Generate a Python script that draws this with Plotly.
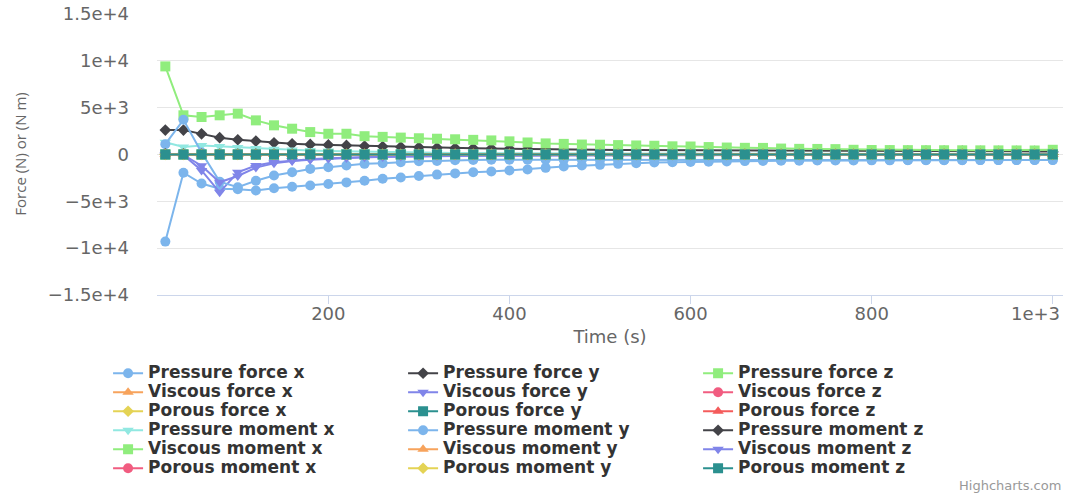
import plotly.graph_objects as go

# ---------------- data ----------------
time_s = [20, 40, 60, 80, 100, 120, 140, 160, 180, 200,
          220, 240, 260, 280, 300, 320, 340, 360, 380, 400,
          420, 440, 460, 480, 500, 520, 540, 560, 580, 600,
          620, 640, 660, 680, 700, 720, 740, 760, 780, 800,
          820, 840, 860, 880, 900, 920, 940, 960, 980, 1000]

pressure_force_x = [-9300, -1950, -3100, -3650, -3700, -3850, -3600, -3450, -3320, -3150,
                    -2980, -2800, -2600, -2450, -2300, -2150, -2020, -1900, -1820, -1710,
                    -1610, -1430, -1290, -1180, -1110, -1000, -930, -860, -820, -800,
                    -770, -740, -710, -690, -670, -660, -650, -640, -640, -630,
                    -630, -620, -620, -610, -610, -600, -600, -600, -590, -590]

pressure_force_y = [2600, 2600, 2200, 1790, 1570, 1430, 1250, 1140, 1070, 1020,
                    960, 900, 850, 800, 760, 720, 690, 660, 630, 600,
                    580, 560, 540, 520, 500, 490, 480, 470, 460, 450,
                    440, 430, 420, 410, 400, 395, 390, 385, 380, 375,
                    370, 365, 360, 355, 350, 345, 340, 335, 330, 325]

pressure_force_z = [9400, 4180, 4000, 4180, 4360, 3640, 3110, 2750, 2390, 2210,
                    2210, 1950, 1880, 1800, 1730, 1680, 1620, 1560, 1500, 1400,
                    1280, 1180, 1130, 1060, 1040, 1000, 960, 930, 870, 850,
                    790, 740, 710, 700, 630, 600, 590, 570, 500, 480,
                    470, 460, 455, 450, 445, 440, 435, 430, 425, 500]

zeros = [0, 0, 0, 0, 0, 0, 0, 0, 0, 0,
         0, 0, 0, 0, 0, 0, 0, 0, 0, 0,
         0, 0, 0, 0, 0, 0, 0, 0, 0, 0,
         0, 0, 0, 0, 0, 0, 0, 0, 0, 0,
         0, 0, 0, 0, 0, 0, 0, 0, 0, 0]

viscous_force_x = zeros
viscous_force_y = [0, -50, -1700, -4040, -1900, -1180, -820, -640, -500, -400,
                   -330, -280, -240, -200, -180, -160, -140, -120, -110, -100,
                   -95, -90, -85, -80, -75, -70, -68, -65, -62, -60,
                   -58, -56, -54, -52, -50, -48, -46, -44, -42, -40,
                   -39, -38, -37, -36, -35, -34, -33, -32, -31, -30]
viscous_force_z = zeros
porous_force_x = zeros
porous_force_y = zeros
porous_force_z = zeros

pressure_moment_x = [1300, 800, 950, 850, 750, 650, 550, 480, 420, 360,
                     320, 280, 250, 220, 200, 180, 160, 150, 140, 130,
                     120, 115, 110, 105, 100, 95, 90, 88, 85, 82,
                     80, 78, 76, 74, 72, 70, 68, 66, 64, 62,
                     60, 59, 58, 57, 56, 55, 54, 53, 52, 50]
pressure_moment_y = [1100, 3700, 200, -2900, -3500, -2800, -2250, -1900, -1540, -1360,
                     -1180, -1000, -930, -820, -720, -700, -620, -580, -570, -570,
                     -570, -570, -575, -575, -580, -580, -585, -585, -590, -590,
                     -595, -595, -600, -600, -600, -600, -600, -600, -600, -600,
                     -600, -600, -600, -600, -600, -600, -600, -600, -600, -600]
pressure_moment_z = [60, 55, 50, 48, 45, 42, 40, 38, 36, 34,
                     32, 30, 29, 28, 27, 26, 25, 24, 23, 22,
                     21, 20, 20, 19, 19, 18, 18, 17, 17, 16,
                     16, 15, 15, 14, 14, 13, 13, 12, 12, 11,
                     11, 10, 10, 10, 9, 9, 9, 8, 8, 8]
viscous_moment_x = zeros
viscous_moment_y = zeros
viscous_moment_z = [0, -50, -1200, -2970, -2300, -1400, -950, -700, -560, -450,
                    -370, -310, -260, -220, -190, -170, -150, -135, -120, -110,
                    -100, -95, -90, -85, -80, -75, -70, -68, -65, -62,
                    -60, -58, -56, -54, -52, -50, -48, -46, -44, -42,
                    -40, -39, -38, -37, -36, -35, -34, -33, -32, -30]
porous_moment_x = zeros
porous_moment_y = zeros
porous_moment_z = zeros

series_names = ["Pressure force x", "Pressure force y", "Pressure force z",
                "Viscous force x", "Viscous force y", "Viscous force z",
                "Porous force x", "Porous force y", "Porous force z",
                "Pressure moment x", "Pressure moment y", "Pressure moment z",
                "Viscous moment x", "Viscous moment y", "Viscous moment z",
                "Porous moment x", "Porous moment y", "Porous moment z"]
series_values = [pressure_force_x, pressure_force_y, pressure_force_z,
                 viscous_force_x, viscous_force_y, viscous_force_z,
                 porous_force_x, porous_force_y, porous_force_z,
                 pressure_moment_x, pressure_moment_y, pressure_moment_z,
                 viscous_moment_x, viscous_moment_y, viscous_moment_z,
                 porous_moment_x, porous_moment_y, porous_moment_z]

y_tick_vals = [-15000, -10000, -5000, 0, 5000, 10000, 15000]
y_tick_text = ["\u22121.5e+4", "\u22121e+4", "\u22125e+3", "0", "5e+3", "1e+4", "1.5e+4"]
x_tick_vals = [200, 400, 600, 800, 1000]
x_tick_text = ["200", "400", "600", "800", "1e+3"]

# ---------------- style ----------------
palette = ["#7cb5ec", "#434348", "#90ed7d", "#f7a35c", "#8085e9",
           "#f15c80", "#e4d354", "#2b908f", "#f45b5b", "#91e8e1"]
symbols = ["circle", "diamond", "square", "triangle-up", "triangle-down"]

fig = go.Figure()
for i, (name, vals) in enumerate(zip(series_names, series_values)):
    color = palette[i % len(palette)]
    sym = symbols[i % len(symbols)]
    fig.add_trace(go.Scatter(
        x=time_s, y=vals,
        name='<span style="font-size:17px">' + name + '</span>',
        mode="lines+markers",
        line=dict(color=color, width=2),
        marker=dict(color=color, symbol=sym, size=9 if sym == "diamond" else 10,
                    line=dict(width=0)),
    ))

# the last x label is shown as an annotation shifted left so it stays inside
# the chart, as the original does; its tick mark stays on the axis
tick_text_axis = x_tick_text[:-1] + [""]

fig.update_layout(
    width=1067, height=497,
    margin=dict(l=157, r=4, t=13, b=202, autoexpand=False),
    paper_bgcolor="white", plot_bgcolor="white",
    font=dict(family="DejaVu Sans", color="#666666"),
    showlegend=True,
    legend=dict(
        orientation="h", x=-0.054, xanchor="left", y=-0.226, yanchor="top",
        entrywidth=250, entrywidthmode="pixels",
        font=dict(family="DejaVu Sans", size=11, color="#333333", weight="bold"),
        itemclick=False, itemdoubleclick=False,
    ),
    xaxis=dict(
        range=[10.8, 1011.3], tickvals=x_tick_vals, ticktext=tick_text_axis,
        automargin=False,
        showgrid=False, zeroline=False,
        showline=True, linecolor="#ccd6eb", linewidth=1,
        ticks="outside", ticklen=8, tickcolor="#ccd6eb",
        ticklabelstandoff=-6,
        tickfont=dict(size=18, color="#666666"),
        title=dict(text="Time (s)", font=dict(size=18, color="#666666"), standoff=7),
    ),
    yaxis=dict(
        range=[-15000, 15100], tickvals=y_tick_vals, ticktext=y_tick_text,
        automargin=False,
        showgrid=True, gridcolor="#e6e6e6", gridwidth=1, zeroline=False,
        showline=False, ticks="", ticklabelstandoff=27, ticklabeloverflow="allow",
        tickfont=dict(size=18, color="#666666"),
        title=dict(text="Force (N) or (N m)",
                   font=dict(family="Open Sans", size=15, color="#666666"), standoff=17),
    ),
    annotations=[
        dict(text=x_tick_text[-1], xref="x", yref="paper",
             x=x_tick_vals[-1], y=0, xanchor="center", yanchor="middle",
             xshift=-17, yshift=-18, showarrow=False,
             font=dict(family="DejaVu Sans", size=18, color="#666666")),
        dict(text="Highcharts.com", xref="paper", yref="paper",
             x=1.0, y=-0.677, xanchor="right", yanchor="middle", showarrow=False,
             font=dict(family="DejaVu Sans", size=13, color="#999999")),
    ],
)

# remove the page's default 8px body margin so the figure fills the window
fig.write_html("out.html", config={"displayModeBar": False},
               post_script="document.body.style.margin='0px';")
